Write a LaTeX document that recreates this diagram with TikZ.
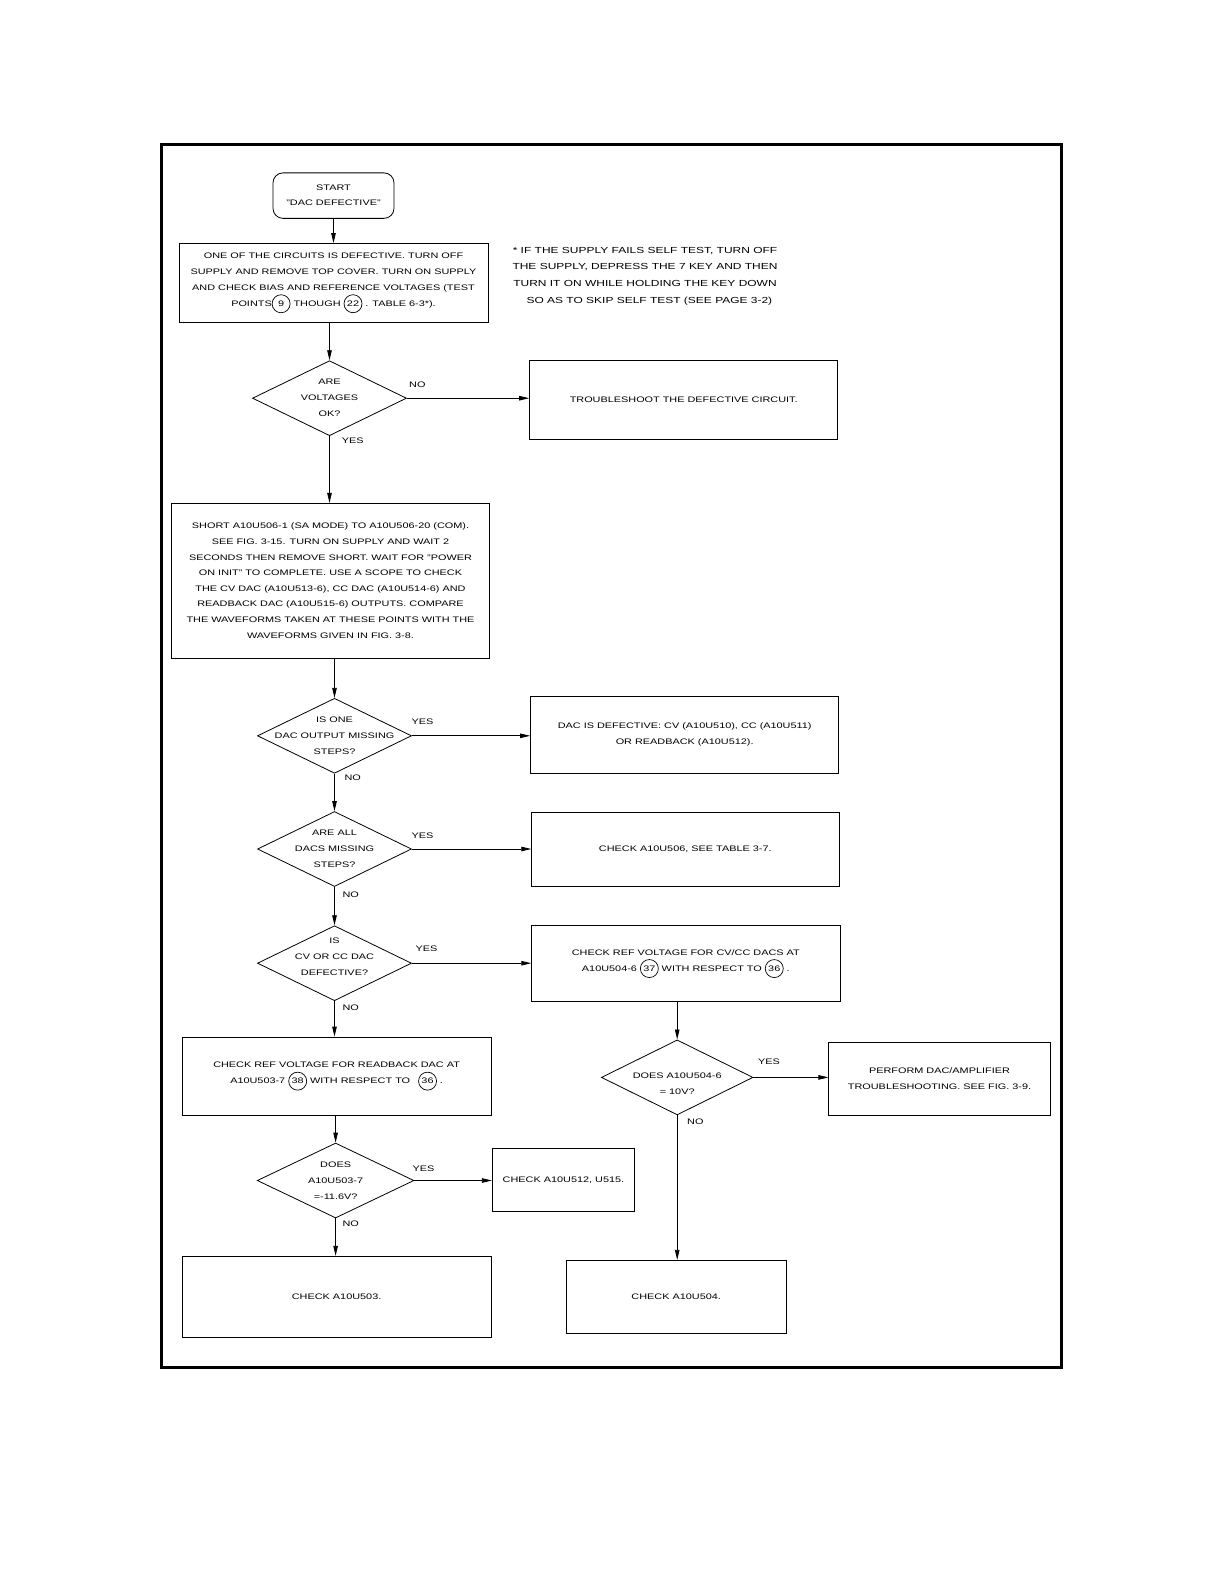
\documentclass[tikz,border=0pt]{standalone}
\usepackage{fontspec}
\setmainfont{Liberation Sans}[FakeStretch=1.36]
\usetikzlibrary{shapes.geometric,arrows.meta}
\newcommand\cnum[1]{\tikz[baseline=(cn.base)]\node[draw,circle,line width=0.7pt,inner sep=0pt,minimum size=18pt](cn){#1};}
\begin{document}
\begin{tikzpicture}[x=1pt,y=-1pt,font=\fontsize{8}{16}\selectfont,
  box/.style={draw,line width=0.8pt,align=center,inner sep=0pt},
  dia/.style={draw,diamond,line width=0.8pt,inner sep=0pt,minimum width=154pt,minimum height=75pt},
  dtext/.style={align=center,inner sep=0pt},
  lbl/.style={inner sep=0pt},
  arr/.style={line width=0.8pt,-{Triangle[length=10pt,width=4.5pt]}}]
\useasboundingbox (0,0) rectangle (1225,1585);
\draw[line width=2.6pt] (161.7,144.5) rectangle (1061.2,1367.5);

\node[box,rounded corners=10pt,minimum width=121pt,minimum height=45.5pt,font=\fontsize{8}{15}\selectfont] (start) at (333.5,195.6) {START\\"DAC DEFECTIVE"};
\node[box,minimum width=309pt,minimum height=79pt] (b1) at (333.5,283) {ONE OF THE CIRCUITS IS DEFECTIVE. TURN OFF\\SUPPLY AND REMOVE TOP COVER. TURN ON SUPPLY\\AND CHECK BIAS AND REFERENCE VOLTAGES (TEST\\POINTS\cnum{9} THOUGH \cnum{22} . TABLE 6-3*).};
\node[align=center,inner sep=0pt,font=\fontsize{8.8}{16.7}\selectfont] (note) at (645,276) {* IF THE SUPPLY FAILS SELF TEST, TURN OFF\\THE SUPPLY, DEPRESS THE 7 KEY AND THEN\\TURN IT ON WHILE HOLDING THE KEY DOWN\\\quad SO AS TO SKIP SELF TEST (SEE PAGE 3-2)};

\node[dia] (d1) at (329.5,398.2) {};
\node[dtext] (d1t) at (d1) {ARE\\VOLTAGES\\OK?};
\node[box,minimum width=308.3pt,minimum height=78.9pt] (tr) at (683.7,400.2) {TROUBLESHOOT THE DEFECTIVE CIRCUIT.};

\node[box,minimum width=317.4pt,minimum height=154.7pt,font=\fontsize{8}{15.6}\selectfont] (b2) at (330.5,580.7) {SHORT A10U506-1 (SA MODE) TO A10U506-20 (COM).\\SEE FIG. 3-15. TURN ON SUPPLY AND WAIT 2\\SECONDS THEN REMOVE SHORT. WAIT FOR "POWER\\ON INIT" TO COMPLETE. USE A SCOPE TO CHECK\\THE CV DAC (A10U513-6), CC DAC (A10U514-6) AND\\READBACK DAC (A10U515-6) OUTPUTS. COMPARE\\THE WAVEFORMS TAKEN AT THESE POINTS WITH THE\\WAVEFORMS GIVEN IN FIG. 3-8.};

\node[dia] (d2) at (334.5,735.8) {};
\node[dtext] (d2t) at (d2) {IS ONE\\DAC OUTPUT MISSING\\STEPS?};
\node[box,minimum width=308.3pt,minimum height=76.8pt] (dd) at (684.7,734.8) {DAC IS DEFECTIVE: CV (A10U510), CC (A10U511)\\OR READBACK (A10U512).};

\node[dia] (d3) at (334.5,849) {};
\node[dtext] (d3t) at (d3) {ARE ALL\\DACS MISSING\\STEPS?};
\node[box,minimum width=307.3pt,minimum height=73.8pt] (a506) at (685.3,849.5) {CHECK A10U506, SEE TABLE 3-7.};

\node[dia] (d4) at (334.5,963.2) {};
\node[dtext] (d4t) at ([yshift=6pt]d4.center) {IS\\CV OR CC DAC\\DEFECTIVE?};
\node[box,minimum width=308.3pt,minimum height=75.8pt] (refcv) at (685.8,963.7) {CHECK REF VOLTAGE FOR CV/CC DACS AT\\A10U504-6 \cnum{37} WITH RESPECT TO \cnum{36} .};

\node[box,minimum width=309.3pt,minimum height=78.8pt] (rb) at (336.6,1076.4) {CHECK REF VOLTAGE FOR READBACK DAC AT\\A10U503-7 \cnum{38} WITH RESPECT TO\quad\cnum{36} .};

\node[dia,minimum width=151.6pt] (d5) at (677.2,1077.4) {};
\node[dtext] (d5t) at ([yshift=-6pt]d5.center) {DOES A10U504-6\\= 10V?};
\node[box,minimum width=221.3pt,minimum height=73.8pt] (perf) at (939.5,1078.9) {PERFORM DAC/AMPLIFIER\\TROUBLESHOOTING. SEE FIG. 3-9.};

\node[dia,minimum width=156.7pt] (d6) at (335.6,1180.5) {};
\node[dtext] (d6t) at (d6) {DOES\\A10U503-7\\=-11.6V?};
\node[box,minimum width=142.5pt,minimum height=63.6pt] (a512) at (563.5,1180) {CHECK A10U512, U515.};

\node[box,minimum width=309.3pt,minimum height=80.9pt] (a503) at (336.6,1296.7) {CHECK A10U503.};
\node[box,minimum width=220.3pt,minimum height=72.8pt] (a504) at (676.2,1296.7) {CHECK A10U504.};

% labels
\node[lbl] (l1) at (417.4,385) {NO};
\node[lbl] (l2) at (352.7,440.7) {YES};
\node[lbl] (l3) at (422.5,721.6) {YES};
\node[lbl] (l4) at (352.7,778.2) {NO};
\node[lbl] (l5) at (422.5,835.8) {YES};
\node[lbl] (l6) at (350.7,894.5) {NO};
\node[lbl] (l7) at (426.5,949) {YES};
\node[lbl] (l8) at (350.7,1007.7) {NO};
\node[lbl] (l9) at (769.1,1062.2) {YES};
\node[lbl] (l10) at (695.4,1121.9) {NO};
\node[lbl] (l11) at (423.5,1168.4) {YES};
\node[lbl] (l12) at (350.7,1224) {NO};

% connectors
\draw[arr] (start.south) -- (start.south |- b1.north);
\draw[arr] (b1.south -| d1.north) -- (d1.north);
\draw[arr] (d1.east) -- (d1.east -| tr.west);
\draw[arr] (d1.south) -- (d1.south |- b2.north);
\draw[arr] (b2.south -| d2.north) -- (d2.north);
\draw[arr] (d2.east) -- (d2.east -| dd.west);
\draw[arr] (d2.south) -- (d3.north);
\draw[arr] (d3.east) -- (d3.east -| a506.west);
\draw[arr] (d3.south) -- (d4.north);
\draw[arr] (d4.east) -- (d4.east -| refcv.west);
\draw[arr] (d4.south) -- (d4.south |- rb.north);
\draw[arr] (refcv.south -| d5.north) -- (d5.north);
\draw[arr] (d5.east) -- (d5.east -| perf.west);
\draw[arr] (d5.south) -- (d5.south |- a504.north);
\draw[arr] (rb.south -| d6.north) -- (d6.north);
\draw[arr] (d6.east) -- (d6.east -| a512.west);
\draw[arr] (d6.south) -- (d6.south |- a503.north);
\end{tikzpicture}
\end{document}
